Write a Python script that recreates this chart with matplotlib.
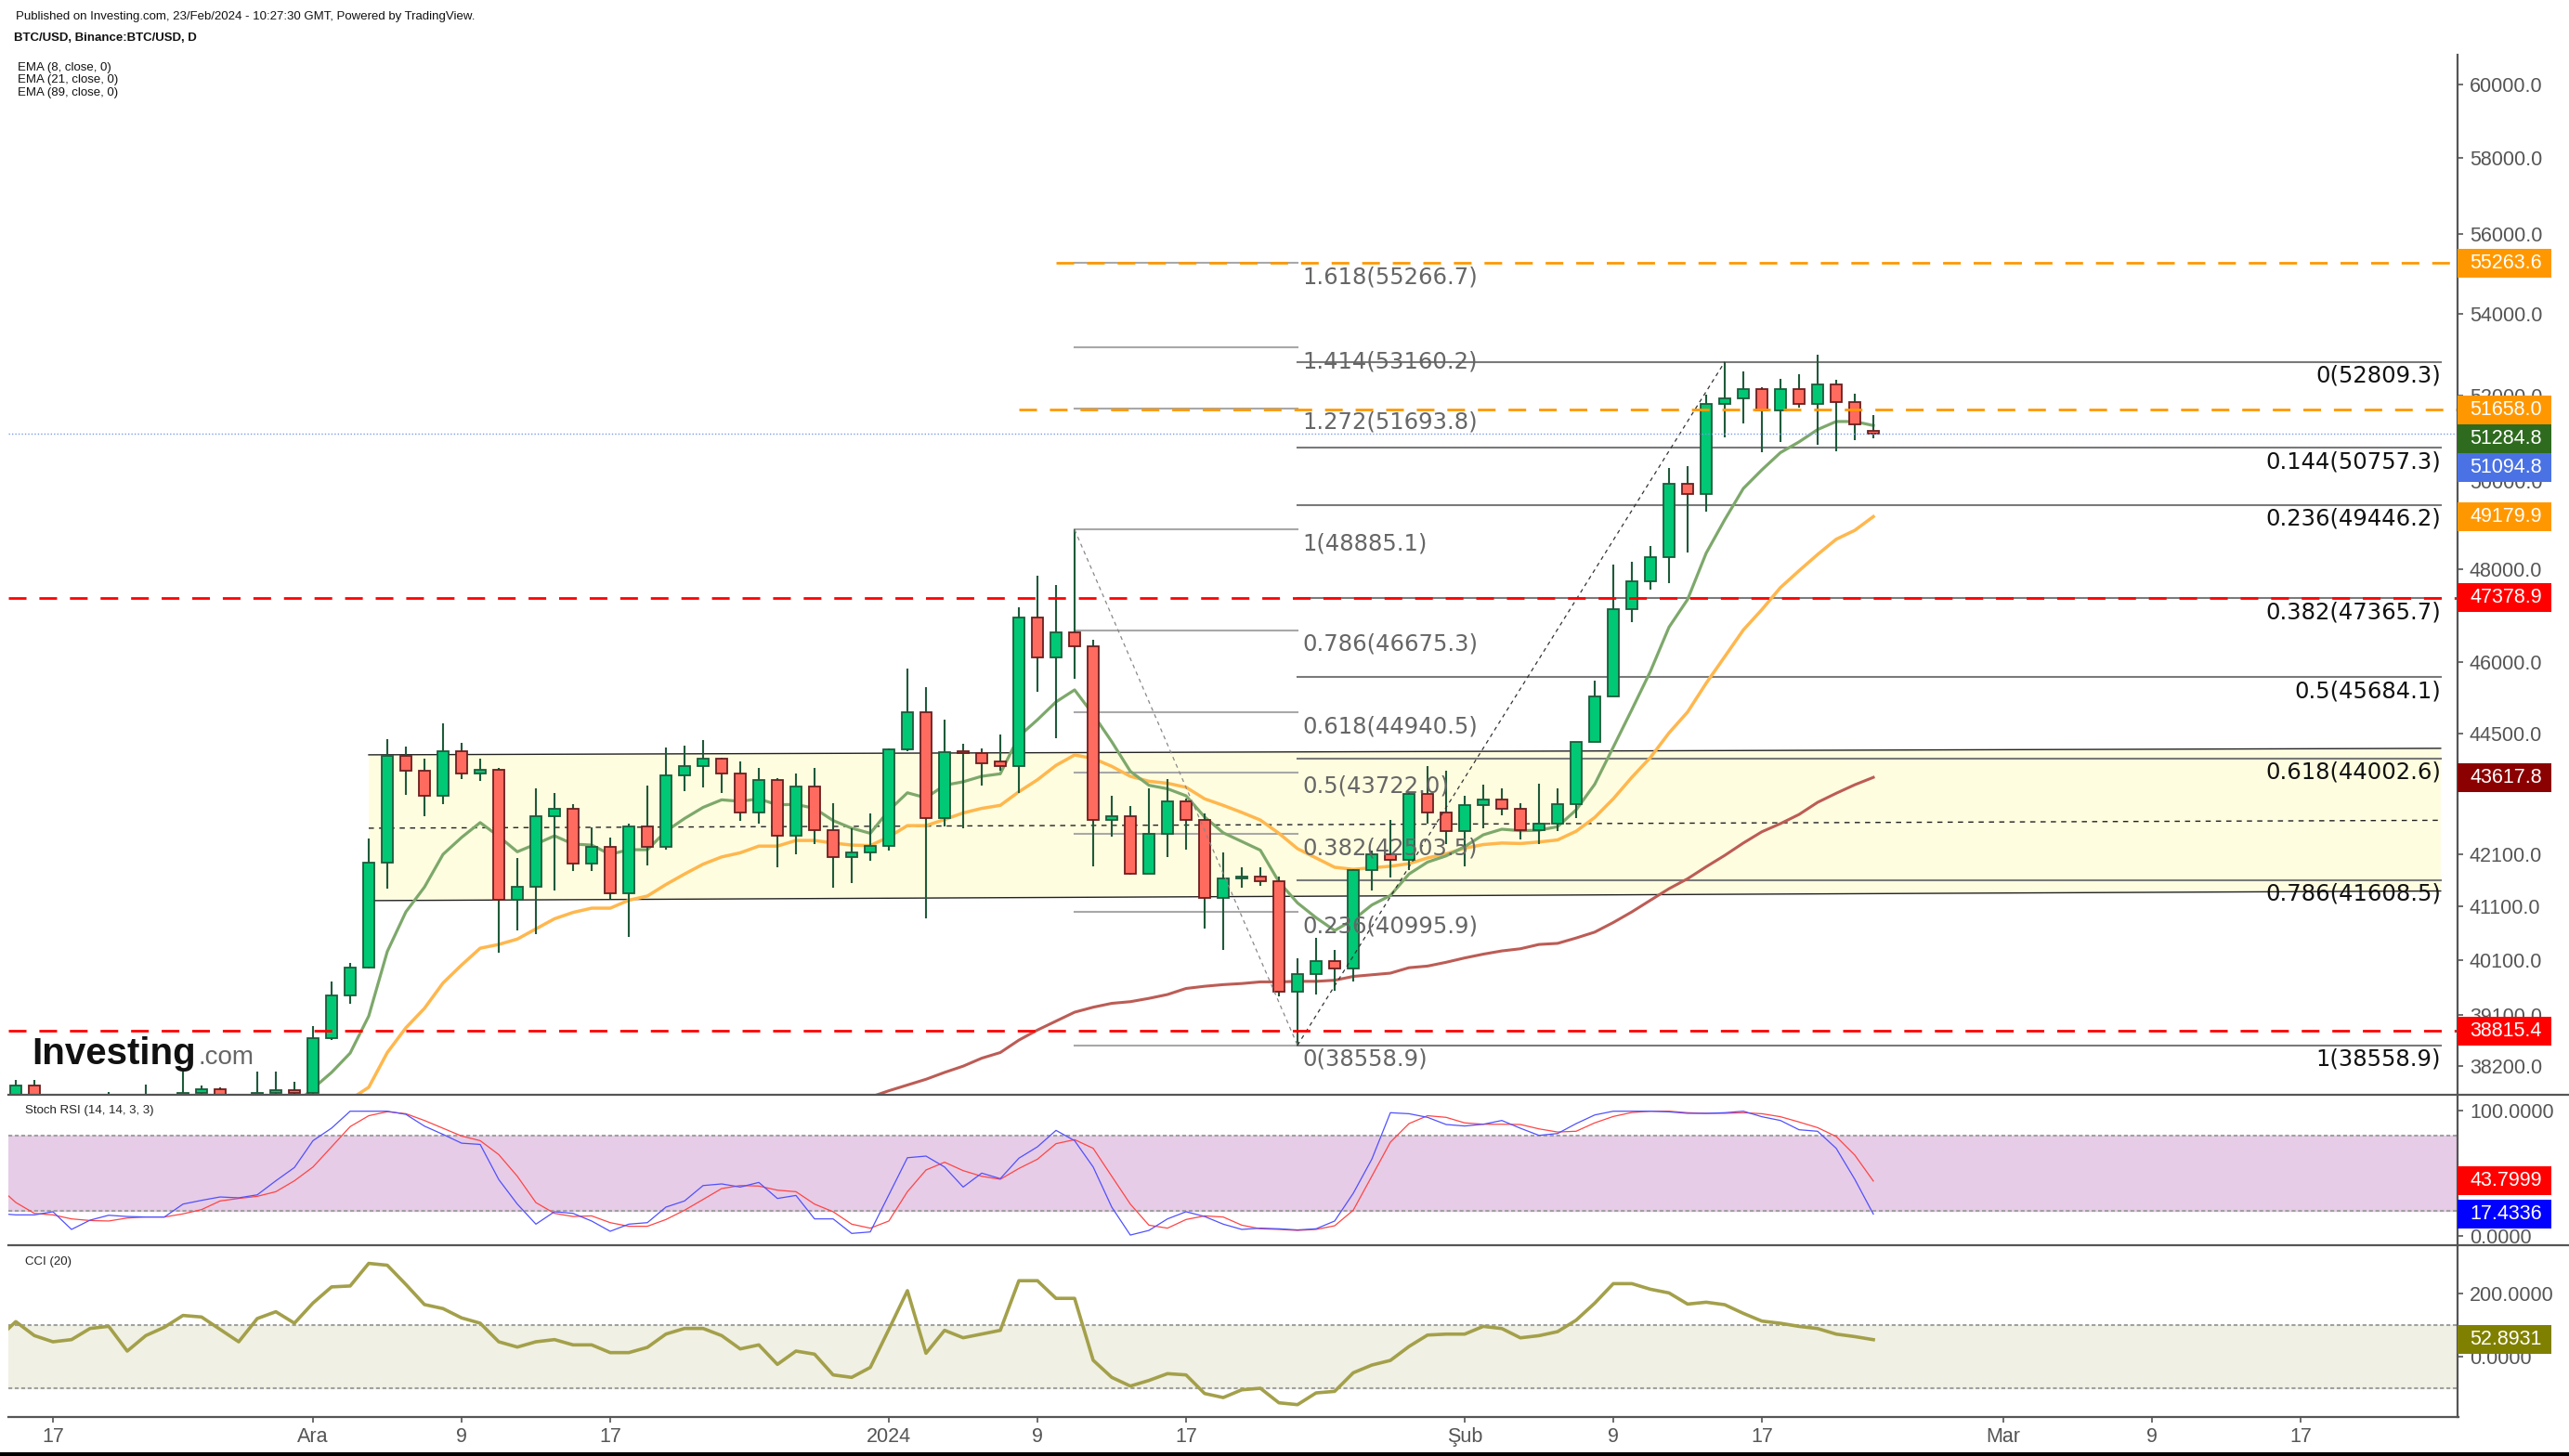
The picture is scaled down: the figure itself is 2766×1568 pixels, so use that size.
import numpy as np
import pandas as pd
import matplotlib
matplotlib.use("Agg")
import matplotlib.pyplot as plt
import matplotlib.dates as mdates
from matplotlib.patches import Rectangle, Polygon
from matplotlib.lines import Line2D
from matplotlib.ticker import FixedLocator, FixedFormatter, NullLocator

plt.rcParams['font.family'] = ['Liberation Sans', 'DejaVu Sans']
plt.rcParams['lines.scale_dashes'] = False

W, H = 2766, 1568

# ---- daily candles, 14 Nov 2023 .. 23 Feb 2024
dates = pd.date_range('2023-11-14', '2024-02-23', freq='D')

opens = [
    36480, 35550, 37850, 36150, 36580, 36570, 37370, 37450, 35750, 37420,
    37290, 37720, 37790, 37450, 37250, 37720, 37760,
    37720, 38690, 39460, 39970, 41940, 44060, 43750, 43250, 44150, 43700,
    43780, 41230, 41480, 42850, 43000, 41930, 42250, 41360, 42650, 42250,
    43650, 43850, 43990, 43700, 42920, 43560, 42460, 43440, 42580, 42050, 42130,
    42270, 44180, 44940, 42800, 44130, 44100, 43930, 43850, 46950, 46100,
    46630, 46340, 42780, 42850, 41720, 42500, 43140, 42770, 41260, 41630,
    41680, 41580, 39520, 39850, 40080, 39950, 41790, 42110, 41990, 43290, 42920,
    42560, 43060, 43180, 43000, 42570, 42700, 43080, 44330, 45270, 47120,
    47740, 48280, 49930, 49700, 51800, 51930, 52150, 51650, 52150, 51800,
    52270, 51840, 51150]
highs = [
    36750, 37950, 37950, 36850, 36850, 37500, 37740, 37650, 37860, 37650,
    38100, 37850, 37820, 37600, 38100, 38100, 37920,
    38900, 39700, 40050, 42400, 44400, 44250, 44000, 44720, 44320, 44000,
    43800, 42030, 43390, 43310, 43080, 42620, 42420, 42700, 43450, 44230,
    44260, 44380, 44020, 43940, 43800, 43600, 43700, 43800, 43100, 42600, 42900,
    44200, 45860, 45470, 44800, 44300, 44200, 44480, 47160, 47860, 47650,
    48885, 46470, 43250, 43050, 43400, 43580, 43200, 42900, 42140, 41850,
    41850, 41680, 40130, 40520, 40280, 41820, 42180, 42780, 43320, 43840, 43750,
    43250, 43480, 43390, 43100, 43500, 43390, 44340, 45600, 48100, 48160,
    48520, 50300, 50340, 52030, 52809, 52580, 52200, 52400, 52500, 52980,
    52380, 52050, 51540]
lows = [
    34800, 35350, 35550, 35900, 36200, 36350, 36700, 35700, 35650, 36850,
    37250, 37600, 37150, 36700, 36900, 37600, 37500,
    37600, 38650, 39300, 39950, 41440, 43260, 42840, 43090, 43580, 43550,
    40240, 40660, 40590, 41400, 41780, 41780, 41250, 40530, 41880, 42200,
    43350, 43420, 43300, 42750, 42700, 41850, 42100, 42300, 41460, 41550, 41980,
    42180, 44150, 40880, 42650, 42600, 43450, 43750, 43300, 45370, 44410,
    45640, 41870, 42450, 41700, 41720, 42050, 42200, 40680, 40280, 41450,
    41500, 39440, 38559, 39470, 39540, 39700, 41400, 41650, 41800, 42700, 42300,
    41870, 42600, 42870, 42390, 42300, 42560, 42800, 44330, 45270, 46850,
    47550, 47700, 48380, 49300, 51000, 51330, 50660, 50900, 51700, 50830,
    50680, 50950, 50980]
closes = [
    35550, 37850, 36150, 36580, 36570, 37370, 37450, 35750, 37420, 37290,
    37720, 37790, 37450, 37250, 37720, 37760, 37720,
    38690, 39460, 39970, 41940, 44060, 43750, 43250, 44150, 43700, 43780,
    41230, 41480, 42850, 43000, 41930, 42250, 41360, 42650, 42250, 43650,
    43850, 43990, 43700, 42920, 43560, 42460, 43440, 42580, 42050, 42130, 42270,
    44180, 44940, 42800, 44130, 44100, 43900, 43850, 46950, 46100, 46630,
    46340, 42780, 42850, 41720, 42500, 43140, 42770, 41260, 41630, 41680,
    41580, 39520, 39850, 40080, 39950, 41790, 42110, 41990, 43290, 42920, 42560,
    43060, 43180, 43000, 42570, 42700, 43080, 44330, 45270, 47120, 47740,
    48280, 49930, 49700, 51800, 51930, 52150, 51650, 52150, 51800, 52270,
    51840, 51320, 51095]

ema8 = [
    36300, 36650, 36540, 36560, 36560, 36750, 36910, 36640, 36810, 36910,
    37090, 37240, 37290, 37280, 37380, 37460, 37520,
    37800, 38080, 38420, 39080, 40260, 41000, 41470, 42100, 42430, 42720,
    42450, 42150, 42300, 42460, 42300, 42280, 42100, 42190, 42190, 42550,
    42800, 43020, 43170, 43140, 43190, 43070, 43080, 43000, 42760, 42610, 42510,
    42960, 43310, 43210, 43460, 43530, 43640, 43690, 44450, 44790, 45160,
    45410, 44900, 44340, 43740, 43460, 43390, 43250, 42830, 42520, 42350,
    42180, 41570, 41170, 40890, 40650, 40850, 41130, 41310, 41720, 41950, 42070,
    42250, 42480, 42590, 42560, 42570, 42640, 42970, 43480, 44230, 45000,
    45800, 46740, 47340, 48360, 49110, 49820, 50250, 50650, 50900, 51190,
    51380, 51380, 51285]
ema21 = [
    35700, 35900, 35920, 35990, 36040, 36160, 36280, 36230, 36340, 36430,
    36550, 36660, 36730, 36780, 36870, 36950, 37020,
    37170, 37380, 37610, 37820, 38430, 38870, 39220, 39680, 40010, 40320,
    40390, 40490, 40680, 40870, 40990, 41070, 41070, 41220, 41300, 41520,
    41720, 41910, 42050, 42130, 42260, 42260, 42370, 42370, 42320, 42280, 42270,
    42440, 42660, 42660, 42780, 42910, 43000, 43060, 43330, 43570, 43860,
    44070, 44000, 43840, 43640, 43540, 43500, 43420, 43190, 43060, 42920,
    42770, 42510, 42210, 42030, 41850, 41810, 41840, 41870, 41920, 42030, 42110,
    42220, 42290, 42320, 42310, 42340, 42380, 42550, 42820, 43190, 43620,
    44020, 44520, 44950, 45550, 46110, 46680, 47120, 47600, 47970, 48330,
    48670, 48870, 49180]
ema89 = [np.nan] * 44 + [
    37350, 37450, 37550, 37650,
    37760, 37860, 37960, 38080, 38190, 38330, 38430, 38650, 38830, 38990,
    39150, 39240, 39310, 39340, 39400, 39470, 39580, 39620, 39650, 39670,
    39700, 39700, 39710, 39710, 39730, 39800, 39830, 39860, 39960, 39990, 40060,
    40140, 40210, 40270, 40310, 40390, 40410, 40510, 40620, 40800, 41000,
    41220, 41440, 41630, 41860, 42080, 42320, 42540, 42700, 42880, 43120,
    43300, 43470, 43618]

stoch_k = [
    18.0, 16.8, 16.8, 19.3, 5.2, 12.6, 16.5, 15.5, 15.1, 15.1,
    25.4, 28.4, 31.1, 30.4, 32.8, 44.0, 54.6,
    76.0, 86.0, 99.5, 99.5, 99.5, 97.0, 87.6, 81.0, 74.0, 73.0,
    45.0, 25.4, 9.4, 19.3, 18.0, 11.9, 3.7, 9.4, 10.6, 23.0,
    27.9, 40.2, 41.5, 39.0, 42.7, 29.9, 32.3, 13.6, 13.6, 2.0, 3.2,
    32.8, 62.4, 63.7, 55.0, 39.0, 50.1, 45.7, 62.0, 71.1, 84.2,
    76.0, 55.0, 23.0, 0.7, 4.4, 13.6, 19.3, 15.5, 9.4, 5.2,
    6.2, 5.7, 4.8, 5.7, 11.9, 34.0, 61.2, 98.3, 97.5, 94.6, 88.9,
    87.7, 89.1, 92.1, 85.9, 80.2, 81.7, 89.6, 96.5, 99.5, 99.5,
    99.5, 99.0, 97.8, 97.8, 98.3, 99.5, 95.1, 92.1, 84.7, 83.5,
    69.9, 45.2, 17.4336]
stoch_d = [
    40.0, 26.7, 18.0, 16.8, 13.6, 12.3, 11.9, 14.3, 15.1, 15.1,
    17.6, 21.0, 27.9, 29.9, 31.6, 35.3, 44.0,
    55.0, 71.1, 87.2, 95.9, 99.1, 97.5, 92.1, 85.9, 79.7, 76.0,
    64.9, 47.6, 26.6, 18.0, 15.5, 16.0, 10.6, 7.7, 7.7, 13.1,
    20.5, 29.1, 37.8, 40.2, 39.8, 36.5, 35.3, 25.4, 19.3, 9.4, 6.2,
    11.9, 35.3, 52.6, 58.8, 52.1, 47.6, 45.2, 53.8, 61.2, 73.6,
    76.8, 69.9, 47.6, 25.4, 8.6, 6.2, 13.1, 16.0, 15.1, 8.6,
    5.7, 5.2, 4.4, 5.2, 8.1, 20.5, 47.6, 74.8, 89.6, 95.9, 94.6,
    90.2, 89.1, 89.1, 88.9, 85.4, 82.9, 83.5, 90.2, 95.3, 98.5,
    99.5, 99.5, 98.3, 97.8, 97.8, 98.3, 97.5, 95.1, 90.9, 86.4,
    79.3, 64.5, 43.7999]
cci = [
    55.0, 110.0, 65.8, 46.2, 53.1, 88.4, 95.2, 16.8, 65.8, 92.3,
    129.6, 124.7, 85.4, 46.2, 119.8, 141.4, 105.1,
    169.0, 220.0, 222.9, 294.5, 288.6, 227.8, 164.1, 151.3, 121.8, 105.1,
    46.2, 29.5, 46.2, 53.1, 36.4, 36.4, 11.9, 11.9, 28.5, 70.7,
    88.4, 88.4, 65.8, 23.6, 36.4, -25.4, 16.8, 7.0, -58.7, -66.5, -35.1,
    85.4, 208.0, 9.9, 82.5, 59.0, 70.7, 82.5, 239.6, 239.6, 183.7,
    183.7, -12.3, -66.5, -94.0, -76.3, -54.7, -58.7, -117.6, -130.4, -105.9,
    -101.0, -147.0, -152.9, -115.7, -110.8, -52.0, -27.5, -12.8, 31.3, 67.5, 70.5,
    70.5, 95.0, 88.1, 58.7, 65.6, 78.3, 114.6, 168.5, 230.3, 230.3,
    212.6, 200.9, 165.6, 171.5, 163.6, 136.2, 111.7, 104.8, 95.0, 88.1,
    70.5, 62.6, 52.8931]

# fibonacci drawings
fib_a_levels = [1.618, 1.414, 1.272, 1, 0.786, 0.618, 0.5, 0.382, 0.236, 0]
fib_a_prices = [55266.7, 53160.2, 51693.8, 48885.1, 46675.3, 44940.5, 43722.0, 42503.5, 40995.9, 38558.9]
fib_a_from, fib_a_to = '2024-01-11', '2024-01-23'
fib_b_levels = [0, 0.144, 0.236, 0.382, 0.5, 0.618, 0.786, 1]
fib_b_prices = [52809.3, 50757.3, 49446.2, 47365.7, 45684.1, 44002.6, 41608.5, 38558.9]
fib_b_from, fib_b_to = '2024-01-23', '2024-03-24 13:00'

# yellow channel (start, end) for top / middle / bottom edges
chan_dates = ['2023-12-04', '2024-03-24 13:00']
chan_top = [44073, 44205]
chan_mid = [42610, 42765]
chan_bot = [41213, 41396]

# horizontal levels
orange_levels = [(55263.6, '2024-01-10'), (51658.0, '2024-01-08')]
red_levels = [47378.9, 38815.4]
last_price = 51094.8

main_tags = [(55263.6, '#FF9800'), (51658.0, '#FF9800'), (51284.8, '#2E6B1E'),
             (51094.8, '#4A72E5'), (49179.9, '#FF9800'), (47378.9, '#FF0000'),
             (43617.8, '#8B0000'), (38815.4, '#FF0000')]
stoch_tags = [(43.7999, '#FF0000'), (17.4336, '#0000FF')]
cci_tags = [(52.8931, '#808000')]

main_ticks = [38200, 39100, 40100, 41100, 42100, 43500, 44500, 46000,
              48000, 50000, 52000, 54000, 56000, 58000, 60000]
xtick_dates = ['2023-11-17', '2023-12-01', '2023-12-09', '2023-12-17', '2024-01-01',
               '2024-01-09', '2024-01-17', '2024-02-01', '2024-02-09', '2024-02-17',
               '2024-03-01', '2024-03-09', '2024-03-17']
xtick_labels = ['17', 'Ara', '9', '17', '2024', '9', '17', 'Şub', '9', '17', 'Mar', '9', '17']


def dn(s):
    return mdates.date2num(pd.Timestamp(s))


x = mdates.date2num(dates)
day0 = dn('2023-12-01')
XLIM = (day0 - 16.4, day0 + 115.45)
GREY = '#555555'

fig = plt.figure(figsize=(W / 100, H / 100), dpi=100)
fig.patch.set_facecolor('white')


def px_axes(x0, y0, x1, y1):
    return fig.add_axes([x0 / W, 1 - y1 / H, (x1 - x0) / W, (y1 - y0) / H])


ax = px_axes(9, 59, 2646, 1179)
ax_st = px_axes(9, 1179, 2646, 1341, )
ax_cci = px_axes(9, 1341, 2646, 1526)

for a in (ax, ax_st, ax_cci):
    a.set_xlim(*XLIM)
    for s in a.spines.values():
        s.set_visible(False)
    a.yaxis.tick_right()
    a.tick_params(axis='y', length=4.3, width=1.2, color=GREY, labelcolor=GREY,
                  labelsize=15.5, pad=5)
    a.tick_params(axis='x', bottom=False, labelbottom=False)

# ---------------- main price panel
ax.set_yscale('log')
ax.set_ylim(37690, 60826)
ax.yaxis.set_major_locator(FixedLocator(main_ticks))
ax.yaxis.set_major_formatter(FixedFormatter([f'{t:.1f}' for t in main_ticks]))
ax.yaxis.set_minor_locator(NullLocator())

cx = [dn(d) for d in chan_dates]
ax.add_patch(Polygon([(cx[0], chan_top[0]), (cx[1], chan_top[1]),
                      (cx[1], chan_bot[1]), (cx[0], chan_bot[0])],
                     closed=True, facecolor='#FFFDE0', edgecolor='none', zorder=1))
ax.plot(cx, chan_top, color='#222222', lw=1.0, zorder=2)
ax.plot(cx, chan_bot, color='#222222', lw=1.0, zorder=2)
ax.plot(cx, chan_mid, color='#222222', lw=1.0, dashes=(4, 4), zorder=2)

# fib A (retracement + extensions)
fa0, fa1 = dn(fib_a_from), dn(fib_a_to)
for lvl, p in zip(fib_a_levels, fib_a_prices):
    ax.plot([fa0, fa1], [p, p], color='#A8A8A8', lw=1.5, zorder=2)
    ax.annotate(f'{lvl:g}({p:.1f})', (fa1 + 0.25, p), xytext=(0, -11),
                textcoords='offset points', ha='left', va='center',
                fontsize=17.5, family='DejaVu Sans', color='#666666', zorder=7)
ax.plot([fa0, fa1], [fib_a_prices[3], fib_a_prices[-1]], color='#888888',
        lw=0.9, dashes=(3, 3), zorder=6)

# fib B
fb0, fb1 = dn(fib_b_from), dn(fib_b_to)
for lvl, p in zip(fib_b_levels, fib_b_prices):
    ax.plot([fb0, fb1], [p, p], color='#7A7A7A', lw=1.5, zorder=2)
    ax.annotate(f'{lvl:g}({p:.1f})', (fb1, p), xytext=(0, -11),
                textcoords='offset points', ha='right', va='center',
                fontsize=17.5, family='DejaVu Sans', color='#111111', zorder=7)
ax.plot([fb0, dn('2024-02-15')], [fib_b_prices[-1], fib_b_prices[0]],
        color='#333333', lw=0.9, dashes=(3, 3), zorder=6)

# EMAs
ax.plot(x, ema89, color='#BC5C55', lw=2.2, zorder=3)
ax.plot(x, ema21, color='#FFB74D', lw=2.5, zorder=3)
ax.plot(x, ema8, color='#7DA86B', lw=2.3, zorder=3)

# candles
o, h, l, c = map(np.array, (opens, highs, lows, closes))
up = c >= o
ax.vlines(x, l, h, color='#1E5A3A', lw=1.5, zorder=4)
body_lo = np.minimum(o, c)
body_h = np.maximum(np.abs(c - o), body_lo * 0.0012)
ax.bar(x[up], body_h[up], bottom=body_lo[up], width=0.62, color='#00C875',
       edgecolor='#1E5A3A', linewidth=1.3, zorder=5)
ax.bar(x[~up], body_h[~up], bottom=body_lo[~up], width=0.62, color='#FF6B5F',
       edgecolor='#6B1F1F', linewidth=1.3, zorder=5)

# horizontal levels
for p, start in orange_levels:
    ax.plot([dn(start), XLIM[1]], [p, p], color='#FF9800', lw=2.0,
            dashes=(13.7, 10), zorder=6)
for p in red_levels:
    ax.plot(XLIM, [p, p], color='#FF0000', lw=2.0, dashes=(13.7, 10), zorder=6)
ax.plot(XLIM, [last_price, last_price], color='#7A9BEA', lw=1.0,
        dashes=(1, 1.5), zorder=6)

# ---------------- stoch RSI
ax_st.set_ylim(-7.4, 112.6)
ax_st.axhspan(20, 80, color='#E6CCE6', zorder=1)
for v in (20, 80):
    ax_st.axhline(v, color='#A0A0A0', lw=1.5, dashes=(3, 2), zorder=2)
ax_st.plot(x, stoch_d, color='#FF4444', lw=0.9, zorder=3)
ax_st.plot(x, stoch_k, color='#5050FF', lw=0.9, zorder=3)
ax_st.yaxis.set_major_locator(FixedLocator([0, 100]))
ax_st.yaxis.set_major_formatter(FixedFormatter(['0.0000', '100.0000']))
ax_st.text(18 / 2637, 0.895, 'Stoch RSI (14, 14, 3, 3)', transform=ax_st.transAxes,
           fontsize=9.5, color='#222222', va='center')

# ---------------- CCI
ax_cci.set_ylim(-192, 352)
ax_cci.axhspan(-100, 100, color='#F0F0E4', zorder=1)
for v in (-100, 100):
    ax_cci.axhline(v, color='#A0A0A0', lw=1.5, dashes=(3, 2), zorder=2)
ax_cci.plot(x, cci, color='#A3A04A', lw=2.6, zorder=3)
ax_cci.yaxis.set_major_locator(FixedLocator([0, 200]))
ax_cci.yaxis.set_major_formatter(FixedFormatter(['0.0000', '200.0000']))
ax_cci.text(18 / 2637, 0.905, 'CCI (20)', transform=ax_cci.transAxes,
            fontsize=9.5, color='#222222', va='center')

ax_cci.tick_params(axis='x', bottom=True, labelbottom=True, length=4.3, width=1.2,
                   color=GREY, labelcolor=GREY, labelsize=15.5, pad=3.5)
ax_cci.xaxis.set_major_locator(FixedLocator([dn(d) for d in xtick_dates]))
ax_cci.xaxis.set_major_formatter(FixedFormatter(xtick_labels))
ax_cci.xaxis.set_minor_locator(NullLocator())

# ---------------- frame lines (pixel coords)
def fig_line(x0, y0, x1, y1, **kw):
    fig.add_artist(Line2D([x0 / W, x1 / W], [1 - y0 / H, 1 - y1 / H], **kw))


fig_line(9, 1179, W, 1179, color=GREY, lw=1.6)
fig_line(9, 1341, W, 1341, color=GREY, lw=1.6)
fig_line(9, 1526, 2647, 1526, color=GREY, lw=1.6)
fig_line(2646, 59, 2646, 1526, color=GREY, lw=1.6)
fig_line(0, 1566, W, 1566, color='black', lw=3)


# ---------------- price tags on the right axis
def draw_tags(a, tags, fmt):
    items = []
    for v, col in tags:
        yc = H - a.transData.transform((XLIM[0], v))[1]
        items.append([yc, v, col])
    items.sort()
    bh = 31
    for i in range(1, len(items)):
        if items[i][0] - items[i - 1][0] < bh:
            items[i][0] = items[i - 1][0] + bh
    for yc, v, col in items:
        fig.add_artist(Rectangle((2646 / W, 1 - (yc + bh / 2) / H), 101 / W, bh / H,
                                 transform=fig.transFigure, facecolor=col,
                                 edgecolor='none', zorder=10))
        fig.text(2659 / W, 1 - yc / H, fmt.format(v), color='white', fontsize=15.5,
                 va='center', ha='left', zorder=11)


draw_tags(ax, main_tags, '{:.1f}')
draw_tags(ax_st, stoch_tags, '{:.4f}')
draw_tags(ax_cci, cci_tags, '{:.4f}')

# ---------------- header texts
fig.text(17 / W, 1 - 18 / H,
         'Published on Investing.com, 23/Feb/2024 - 10:27:30 GMT, Powered by TradingView.',
         fontsize=9.5, color='#111111', va='center')
fig.text(15 / W, 1 - 41 / H, 'BTC/USD, Binance:BTC/USD, D', fontsize=9.5,
         fontweight='bold', color='#111111', va='center')
for i, t in enumerate(['EMA (8, close, 0)', 'EMA (21, close, 0)', 'EMA (89, close, 0)']):
    fig.text(19 / W, 1 - (73 + 13.5 * i) / H, t, fontsize=9.5, color='#111111',
             va='center')

# watermark
fig.text(34 / W, 1 - 1146 / H, 'Investing', fontsize=29, fontweight='bold',
         color='#111111', va='baseline', zorder=12)
fig.text(214 / W, 1 - 1146 / H, '.com', fontsize=20, color='#666666',
         va='baseline', zorder=12)

fig.savefig('out.png', dpi=100, facecolor='white')
